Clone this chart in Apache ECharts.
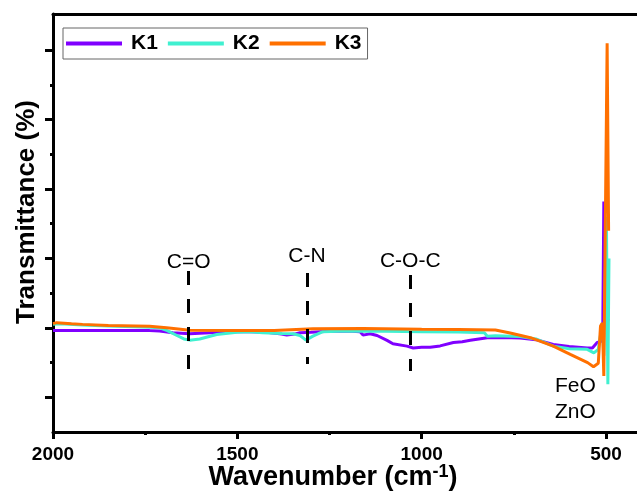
<!DOCTYPE html>
<html>
<head>
<meta charset="utf-8">
<script src="https://cdn.jsdelivr.net/npm/echarts@6/dist/echarts.min.js"></script>
<style>
  html, body { margin: 0; padding: 0; background: #fff; }
  #ftir { width: 637px; height: 493px; }
</style>
</head>
<body>
<div id="ftir"></div>
<script>
// wavenumber (cm-1), transmittance (arb.)
const k1 = [
  [2000, 9.6], [1950, 9.62], [1900, 9.63], [1800, 9.63], [1738, 9.6], [1711, 9.55],
  [1675, 9.3], [1629, 9.15], [1575, 9.3], [1500, 9.45], [1466, 9.45], [1420, 9.35],
  [1380, 9.1], [1366, 8.95], [1345, 9.1], [1330, 9.3], [1300, 9.35], [1250, 9.5],
  [1200, 9.55], [1167, 9.45], [1159, 8.95], [1140, 9.15], [1121, 8.9], [1094, 8.2],
  [1078, 7.7], [1040, 7.37], [1023, 7.1], [1000, 7.2], [977, 7.2], [950, 7.4],
  [914, 7.9], [890, 8.0], [868, 8.2], [845, 8.4], [822, 8.57], [780, 8.6],
  [733, 8.55], [690, 8.3], [643, 7.6], [600, 7.3], [551, 7.1], [537, 7.1],
  [524, 7.9], [515, 8.0], [509, 8.6], [506, 28.2], [503, 12], [497, 11.2], [492, 11]
]
const k2 = [
  [2000, 10.5], [1980, 10.6], [1920, 10.4], [1850, 10.25], [1780, 10.15], [1738, 10.1],
  [1711, 10.0], [1690, 9.6], [1664, 8.9], [1645, 8.4], [1629, 8.23], [1602, 8.4],
  [1556, 9.05], [1501, 9.38], [1466, 9.44], [1431, 9.3], [1380, 9.2], [1349, 9.15],
  [1330, 8.9], [1314, 8.23], [1295, 8.8], [1268, 9.44], [1203, 9.53], [1100, 9.5],
  [1000, 9.45], [900, 9.4], [830, 9.3], [822, 8.8], [800, 8.85], [733, 8.75],
  [690, 8.4], [643, 7.37], [600, 7.0], [551, 6.9], [533, 6.4], [521, 6.9],
  [510, 10.7], [506, 6], [499, 26], [495, 1.87], [492, 20]
]
const k3 = [
  [2000, 10.6], [1990, 10.75], [1950, 10.6], [1920, 10.5], [1850, 10.35], [1738, 10.24],
  [1692, 10.0], [1629, 9.67], [1500, 9.63], [1400, 9.63], [1295, 9.87], [1159, 9.91],
  [1000, 9.8], [900, 9.75], [800, 9.7], [760, 9.25], [705, 8.58], [643, 7.37],
  [597, 6.18], [550, 4.99], [534, 4.4], [521, 4.9], [515, 10.25], [510, 10.7],
  [506, 3.06], [497, 51], [493, 24]
]
const seriesNames = ['K1', 'K2', 'K3']
const xTicks = [500, 1000, 1500, 2000]
const xMinorTicks = [750, 1250, 1750]
const yTicks = [0, 10, 20, 30, 40, 50]
const yMinorTicks = [5, 15, 25, 35, 45]
// functional group bands: [wavenumber, top, bottom, label]
const bands = [
  [1632, 18.2, 3.8, 'C=O'],
  [1311, 17.9, 4.8, 'C-N'],
  [1031, 17.6, 3.8, 'C-O-C']
]
const oxideLabel = 'FeO\nZnO'
const oxidePos = [583, -0.3]

const font = 'Liberation Sans, Arial, sans-serif'
const colors = ['#8000ff', '#40f0d0', '#ff7000']

const chart = echarts.init(document.getElementById('ftir'))

const bandLines = bands.map(function(b, i) {
  const dist = [-2, 6, 3][i]
  return [
    { coord: [b[0], b[1]], name: b[3], label: { distance: dist } },
    { coord: [b[0], b[2]] }
  ]
})

chart.setOption({
  animation: false,
  color: colors,
  textStyle: { fontFamily: font },
  grid: { left: 53, right: 0, top: 14, bottom: 61, outerBoundsMode: 'none' },
  legend: {
    left: 63,
    top: 28,
    data: seriesNames,
    icon: 'rect',
    itemWidth: 56,
    itemHeight: 4,
    itemGap: 10,
    padding: [5, 6, 5, 3],
    borderColor: '#666',
    borderWidth: 1,
    textStyle: { fontSize: 21, fontWeight: 'bold', color: '#000', padding: [0, 0, 0, 4] }
  },
  xAxis: [
    {
      type: 'value',
      min: 416,
      max: 2000,
      inverse: true,
      name: 'Wavenumber (cm{sup|-1})',
      nameLocation: 'middle',
      nameGap: 31,
      nameMoveOverlap: false,
      nameTextStyle: {
        fontSize: 27,
        fontWeight: 'bold',
        color: '#000',
        padding: [0, 24, 0, 0],
        rich: {
          sup: { fontSize: 18, fontWeight: 'bold', color: '#000', verticalAlign: 'top', padding: [0, 0, 12, 0] }
        }
      },
      splitLine: { show: false },
      axisLine: { onZero: false, lineStyle: { color: '#000', width: 3 } },
      axisTick: { customValues: xTicks, length: 7, lineStyle: { width: 3, color: '#000' } },
      axisLabel: {
        customValues: xTicks,
        formatter: function(v) { return String(v) },
        fontSize: 19,
        fontWeight: 'bold',
        color: '#000',
        margin: 13
      }
    },
    {
      type: 'value',
      min: 416,
      max: 2000,
      inverse: true,
      position: 'bottom',
      splitLine: { show: false },
      axisLine: { show: false, onZero: false },
      axisLabel: { show: false },
      axisTick: { customValues: xMinorTicks, length: 3, lineStyle: { width: 3, color: '#000' } }
    },
    {
      type: 'value',
      min: 416,
      max: 2000,
      inverse: true,
      position: 'top',
      splitLine: { show: false },
      axisLine: { onZero: false, lineStyle: { color: '#000', width: 3 } },
      axisLabel: { show: false },
      axisTick: { show: false }
    }
  ],
  yAxis: [
    {
      type: 'value',
      min: -5,
      max: 55.2,
      name: 'Transmittance (%)',
      nameLocation: 'middle',
      nameGap: 13,
      nameTextStyle: { fontSize: 26, fontWeight: 'bold', color: '#000', padding: [0, 0, 0, 22] },
      splitLine: { show: false },
      axisLine: { onZero: false, lineStyle: { color: '#000', width: 3 } },
      axisTick: { customValues: yTicks, length: 8, lineStyle: { width: 3, color: '#000' } },
      axisLabel: { show: false }
    },
    {
      type: 'value',
      min: -5,
      max: 55.2,
      position: 'left',
      splitLine: { show: false },
      axisLine: { show: false, onZero: false },
      axisLabel: { show: false },
      axisTick: { customValues: yMinorTicks, length: 3, lineStyle: { width: 3, color: '#000' } }
    }
  ],
  series: [
    {
      name: 'K1',
      type: 'line',
      data: k1,
      showSymbol: false,
      lineStyle: { width: 3 }
    },
    {
      name: 'K2',
      type: 'line',
      data: k2,
      showSymbol: false,
      lineStyle: { width: 3 }
    },
    {
      name: 'K3',
      type: 'line',
      data: k3,
      showSymbol: false,
      lineStyle: { width: 3 },
      markLine: {
        silent: true,
        symbol: 'none',
        lineStyle: { color: '#000', width: 3, type: [14, 14] },
        label: {
          show: true,
          position: 'start',
          formatter: '{b}',
          fontSize: 21,
          color: '#000'
        },
        data: bandLines
      },
      markPoint: {
        silent: true,
        symbolSize: 0,
        label: {
          show: true,
          position: 'inside',
          formatter: oxideLabel,
          fontSize: 21,
          lineHeight: 26,
          color: '#000'
        },
        data: [{ coord: oxidePos }]
      }
    }
  ]
})
</script>
</body>
</html>
